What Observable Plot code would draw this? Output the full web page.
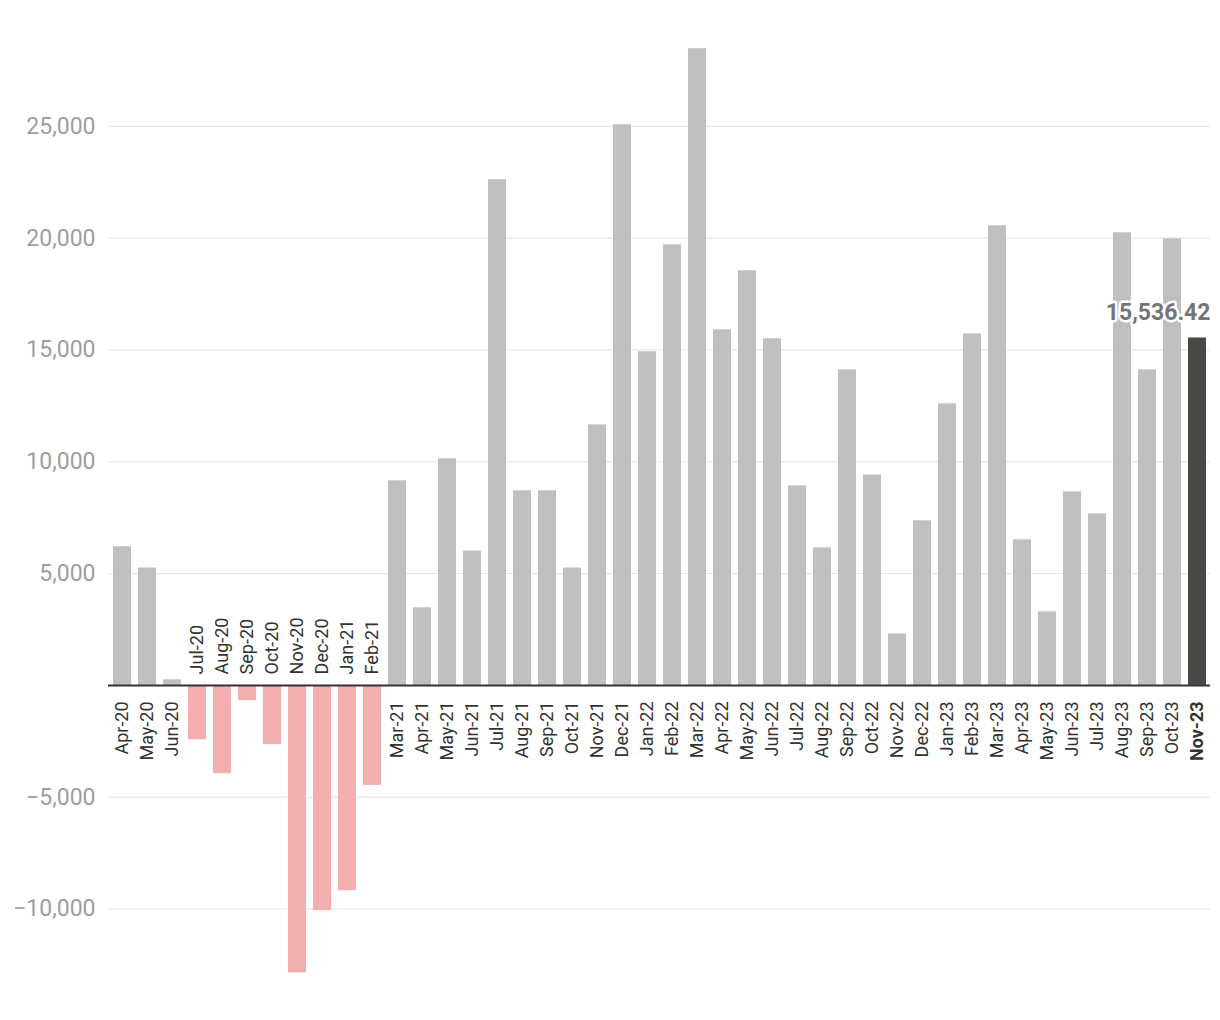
<!DOCTYPE html>
<html>
<head>
<meta charset="utf-8">
<script src="https://cdn.jsdelivr.net/npm/d3@7"></script>
<script src="https://cdn.jsdelivr.net/npm/@observablehq/plot@0.6"></script>
<style>
  html, body { margin: 0; padding: 0; background: #fff; }
  #chart svg { display: block; font-family: Roboto, "Noto Sans", sans-serif; }
</style>
</head>
<body>
<div id="chart"></div>
<script>
const months = [
  "Apr-20","May-20","Jun-20","Jul-20","Aug-20","Sep-20","Oct-20","Nov-20","Dec-20",
  "Jan-21","Feb-21","Mar-21","Apr-21","May-21","Jun-21","Jul-21","Aug-21","Sep-21","Oct-21","Nov-21","Dec-21",
  "Jan-22","Feb-22","Mar-22","Apr-22","May-22","Jun-22","Jul-22","Aug-22","Sep-22","Oct-22","Nov-22","Dec-22",
  "Jan-23","Feb-23","Mar-23","Apr-23","May-23","Jun-23","Jul-23","Aug-23","Sep-23","Oct-23","Nov-23"
];
const values = [
  6200, 5250, 250, -2430, -3950, -680, -2650, -12850, -10070,
  -9180, -4470, 9150, 3470, 10130, 6010, 22610, 8700, 8700, 5250, 11650, 25070,
  14920, 19700, 28470, 15900, 18540, 15500, 8920, 6150, 14110, 9410, 2300, 7360,
  12590, 15720, 20550, 6510, 3290, 8650, 7670, 20240, 14110, 19970, 15536.42
];
const highlight = "Nov-23";
const yTicks = [-10000, -5000, 5000, 10000, 15000, 20000, 25000];

const data = months.map((m, i) => ({month: m, value: values[i]}));
const hl = data.filter(d => d.month === highlight);
const others = data.filter(d => d.month !== highlight);

const chart = Plot.plot({
  width: 1220,
  height: 1020,
  marginLeft: 108,
  marginRight: 10,
  marginTop: 14,
  marginBottom: 22,
  x: {domain: months, paddingInner: 0.28, paddingOuter: 0.16, axis: null},
  y: {domain: [-14000, 30000], axis: null},
  marks: [
    Plot.gridY(yTicks, {stroke: "#e2e2e2", strokeOpacity: 1, strokeWidth: 1}),
    Plot.axisY(yTicks, {tickSize: 0, tickPadding: 13, fontSize: 23, fill: "#9e9e9e", label: null, tickFormat: d3.format(",")}),
    Plot.barY(data, {
      x: "month", y: "value",
      fill: d => d.month === highlight ? "#494a45" : (d.value < 0 ? "#f4aeaf" : "#bfbfbe")
    }),
    Plot.ruleY([0], {stroke: "#333", strokeWidth: 2}),
    Plot.text(others.filter(d => d.value >= 0), {
      x: "month", y: () => 0, text: "month", rotate: -90, textAnchor: "end",
      dy: 16, fontSize: 18, fill: "#333"
    }),
    Plot.text(others.filter(d => d.value < 0), {
      x: "month", y: () => 0, text: "month", rotate: -90, textAnchor: "start",
      dy: -11, fontSize: 18, fill: "#333"
    }),
    Plot.text(hl, {
      x: "month", y: () => 0, text: "month", rotate: -90, textAnchor: "end",
      dy: 16, fontSize: 18, fontWeight: "bold", fill: "#333"
    }),
    Plot.text(hl, {
      x: "month", y: "value", text: d => d3.format(",.2f")(d.value),
      textAnchor: "end", lineAnchor: "bottom", dx: 13, dy: -18,
      fontSize: 23, fontWeight: "bold", fill: "#757575",
      stroke: "white", strokeWidth: 5
    })
  ]
});
document.getElementById("chart").appendChild(chart);
</script>
</body>
</html>
